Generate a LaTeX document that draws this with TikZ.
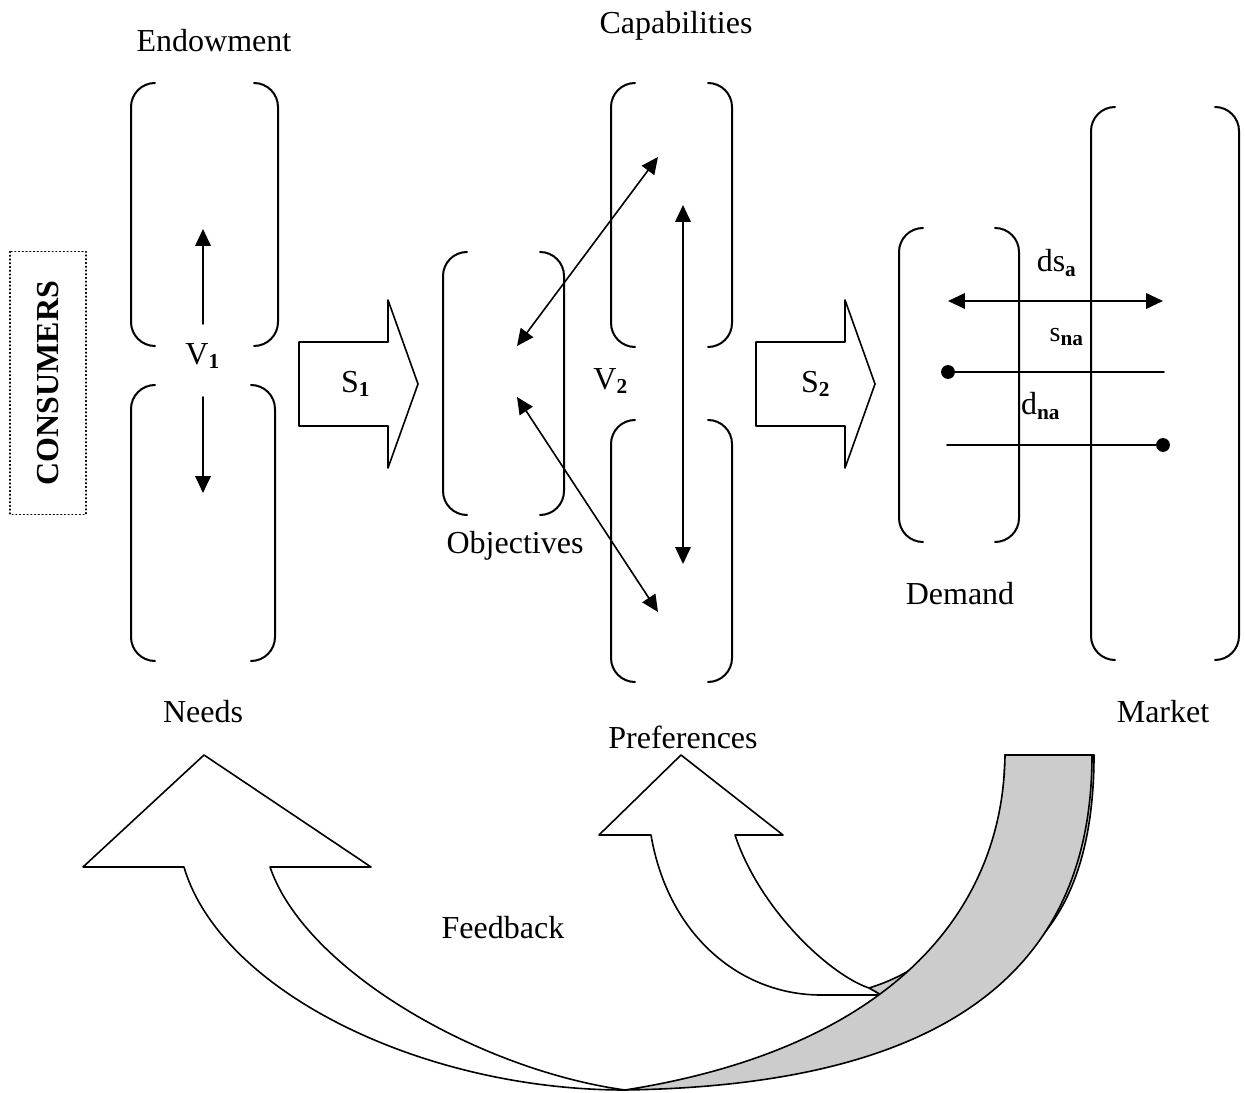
\documentclass[tikz,border=0pt]{standalone}
\usepackage{fontspec}
\setmainfont{Liberation Serif}
\usetikzlibrary{arrows.meta,fit}
\tikzset{>={Triangle[length=6.3pt,width=5.8pt]}}
\colorlet{backgray}{black!20}

\begin{document}
\begin{tikzpicture}[x=0.375pt, y=-0.375pt, % one unit = one pixel, y downwards
                    line cap=round, line join=round,
                    font=\fontsize{12}{14}\selectfont,
                    area/.style={inner sep=0pt, outer sep=0pt},
                    bracket/.style={line width=0.75pt, rounded corners=9pt},
                    link/.style={line width=0.6pt},
                    band/.style={line width=0.6pt},
                    endpoint/.style={circle, fill, inner sep=0pt, minimum size=5.2pt},
                    shift arrow/.pic={
                      \draw[line width=0.6pt, fill=white] (0,-42) -- (89,-42) -- (89,-84)
                        -- (119,0) -- (89,84) -- (89,42) -- (0,42) -- cycle;}]
  \useasboundingbox (0,0) rectangle (1245,1093);

% Comando para desenhar um par de parenteses em volta de uma area
  \def\brackets#1{%
    \draw[bracket] ([xshift=9pt]#1.north west) -- (#1.north west)
      -- (#1.south west) -- ([xshift=9pt]#1.south west);
    \draw[bracket] ([xshift=-9pt]#1.north east) -- (#1.north east)
      -- (#1.south east) -- ([xshift=-9pt]#1.south east);
  }

% Caixa dos consumidores
  \node[draw, densely dotted, line width=0.4pt, rotate=90, font=\fontsize{12}{14}\selectfont\bfseries,
        minimum width=98.6pt, minimum height=28.5pt] (cons) at (48,383) {CONSUMERS};

% Areas (parenteses)
  \node[area, fit={(131,83) (278,346)}]   (endow)  {};
  \node[area, fit={(131,385) (275,661)}]  (needs)  {};
  \node[area, fit={(443,252) (564,515)}]  (objec)  {};
  \node[area, fit={(611,83) (732,347)}]   (capab)  {};
  \node[area, fit={(611,420) (732,682)}]  (prefs)  {};
  \node[area, fit={(899,228) (1019,542)}] (demand) {};
  \node[area, fit={(1091,107) (1239,660)}] (market) {};
  \foreach \a in {endow,needs,objec,capab,prefs,demand,market}{\brackets{\a}}

% Nomes das areas
  \node (t-endow)  at (214,41)  {Endowment};
  \node (t-needs)  at (203,712) {Needs};
  \node (t-objec)  at (515,546) {Objectives};
  \node (t-capab)  at (676,26)  {Capabilities};
  \node (t-prefs)  at (683,737) {Preferences};
  \node (t-demand) at (960,594) {Demand};
  \node (t-market) at (1163,712) {Market};

% Primeira etapa: V1 e S1
  \node (v1) at (203,356) {V\textsubscript{\textbf{1}}};
  \coordinate (v1-up)  at (203,324);
  \coordinate (v1-dn)  at (203,397);
  \coordinate (endow-in) at (203,229);
  \coordinate (needs-in) at (203,493);
  \draw[link,->] (v1-up) -- (endow-in);
  \draw[link,->] (v1-dn) -- (needs-in);
  \pic at (299,384) {shift arrow};
  \node (s1) at (356,384) {S\textsubscript{\textbf{1}}};

% Segunda etapa: V2 e S2
  \node (v2) at (611,381) {V\textsubscript{\textbf{2}}};
  \coordinate (objec-up) at (517,346);
  \coordinate (objec-dn) at (517,397);
  \coordinate (capab-in) at (658,157);
  \coordinate (prefs-in) at (658,612);
  \coordinate (capab-top) at (683,205);
  \coordinate (prefs-bot) at (683,564);
  \draw[link,<->] (objec-up) -- (capab-in);
  \draw[link,<->] (objec-dn) -- (prefs-in);
  \draw[link,<->] (capab-top) -- (prefs-bot);
  \pic at (756,384) {shift arrow};
  \node (s2) at (816,384) {S\textsubscript{\textbf{2}}};

% Procura e mercado
  \node (t-dsa) at (1057,263) {ds\textsubscript{\textbf{a}}};
  \node (t-sna) at (1067,337) {{\fontsize{10.5}{12}\selectfont s}\textsubscript{\textbf{na}}};
  \node (t-dna) at (1041,406) {d\textsubscript{\textbf{na}}};
  \coordinate (dsa-l) at (948,301);
  \coordinate (dsa-r) at (1163,301);
  \node[endpoint] (sna-l) at (948,372) {};
  \coordinate (sna-r) at (1164,372);
  \coordinate (dna-l) at (947,445);
  \node[endpoint] (dna-r) at (1163,445) {};
  \draw[link,<->] (dsa-l) -- (dsa-r);
  \draw[link] (sna-l.center) -- (sna-r);
  \draw[link] (dna-l) -- (dna-r.center);

% Retroalimentacao: seta pequena (preferencias)
  \draw[band, fill=backgray] (869,988) .. controls (960,960) and (1003,880) .. (1005,755)
    -- (1094,755) .. controls (1094,930) and (1010,1000) .. (881,995) -- cycle;
  \draw[band, fill=white] (651,835) .. controls (668,935) and (740,995) .. (821,995)
    -- (881,995) -- (869,988) .. controls (830,975) and (760,910) .. (735,835)
    -- (783,835) -- (681,755) -- (599,835) -- cycle;
% Retroalimentacao: seta grande (necessidades)
  \draw[band, fill=backgray] (625,1090) .. controls (880,1050) and (1003,920) .. (1005,755)
    -- (1092,755) .. controls (1092,960) and (960,1085) .. (625,1090) -- cycle;
  \draw[band, fill=white] (625,1090) .. controls (420,1090) and (220,990) .. (184,867)
    -- (83,867) -- (204,755) -- (371,867) -- (270,867)
    .. controls (305,970) and (480,1070) .. (625,1090) -- cycle;
  \node (t-feed) at (503,928) {Feedback};
\end{tikzpicture}
\end{document}
